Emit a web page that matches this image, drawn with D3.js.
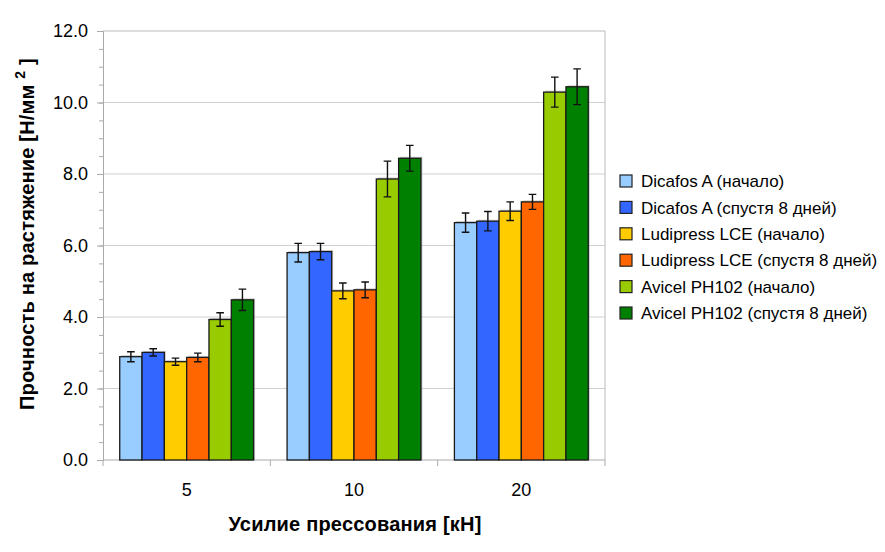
<!DOCTYPE html>
<html>
<head>
<meta charset="utf-8">
<script src="https://cdn.jsdelivr.net/npm/d3@7"></script>
<style>
  body { margin: 0; background: #fff; }
  text { font-family: "Liberation Sans", Arial, Helvetica, sans-serif; }
</style>
</head>
<body>
<div id="chart"></div>
<script>
// Data
const groups = ['5', '10', '20'];
const series = [
    'Dicafos A (начало)',
    'Dicafos A (спустя 8 дней)',
    'Ludipress LCE (начало)',
    'Ludipress LCE (спустя 8 дней)',
    'Avicel PH102 (начало)',
    'Avicel PH102 (спустя 8 дней)'
];
const colors = ['#99ccff', '#3366ff', '#ffcc00', '#ff6600', '#99cc00', '#008000'];
// values[group][series]
const values = [
    [2.89, 3.01, 2.75, 2.87, 3.93, 4.48],
    [5.80, 5.83, 4.73, 4.76, 7.86, 8.44],
    [6.64, 6.68, 6.96, 7.22, 10.29, 10.44]
];
const errors = [
    [0.14, 0.10, 0.10, 0.12, 0.19, 0.30],
    [0.26, 0.23, 0.22, 0.22, 0.50, 0.36],
    [0.27, 0.27, 0.26, 0.21, 0.42, 0.50]
];
const yTicks = [0, 2, 4, 6, 8, 10, 12];

const margin = { top: 31, left: 103, right: 280, bottom: 92 };
const totalW = 885, totalH = 552;
const width = totalW - margin.left - margin.right;   // ~502
const height = totalH - margin.top - margin.bottom;  // ~429

const svg = d3.select('#chart')
    .append('svg')
    .attr('width', totalW)
    .attr('height', totalH);

const g = svg.append('g')
    .attr('transform', `translate(${margin.left},${margin.top})`);

// Scales
const x0 = d3.scaleBand()
    .domain(groups)
    .range([0, width]);

const x1 = d3.scaleBand()
    .domain(series)
    .range([0, x0.bandwidth()])
    .paddingOuter(0.75);

const y = d3.scaleLinear()
    .domain([0, 12])
    .range([height, 0]);

// Gridlines
g.append('g')
    .selectAll('line')
    .data(yTicks.filter(d => d > 0 && d < 12))
    .enter()
    .append('line')
    .attr('x1', 0)
    .attr('x2', width)
    .attr('y1', d => y(d))
    .attr('y2', d => y(d))
    .attr('stroke', '#d0d0d0')
    .attr('stroke-width', 1);

// Frame top and right
g.append('path')
    .attr('d', `M0,0H${width}V${height}`)
    .attr('fill', 'none')
    .attr('stroke', '#bbbbbb')
    .attr('stroke-width', 1);

// Minor ticks on y
g.append('g')
    .attr('class', 'y-minor')
    .call(d3.axisLeft(y).ticks(24).tickSize(4).tickFormat(''))
    .call(s => s.select('.domain').remove())
    .selectAll('line').attr('stroke', '#aaaaaa');

// Y axis
const yAxis = g.append('g')
    .call(d3.axisLeft(y).tickValues(yTicks).tickSize(6).tickPadding(9).tickFormat(d3.format('.1f')));
yAxis.select('.domain').attr('stroke', '#aaaaaa');
yAxis.selectAll('line').attr('stroke', '#aaaaaa');
yAxis.selectAll('text')
    .style('font-size', '18px')
    .attr('fill', '#000');

// X axis: ticks at group boundaries
const xAxisG = g.append('g')
    .attr('transform', `translate(0,${height})`);
xAxisG.append('line')
    .attr('x1', 0).attr('x2', width)
    .attr('stroke', '#aaaaaa');
xAxisG.selectAll('.bt')
    .data([0, 1, 2, 3])
    .enter()
    .append('line')
    .attr('x1', d => d * x0.step())
    .attr('x2', d => d * x0.step())
    .attr('y1', 0).attr('y2', 6)
    .attr('stroke', '#aaaaaa');
xAxisG.selectAll('text')
    .data(groups)
    .enter()
    .append('text')
    .attr('x', d => x0(d) + x0.bandwidth() / 2)
    .attr('y', 36)
    .attr('text-anchor', 'middle')
    .style('font-size', '18px')
    .text(d => d);

// Bars
const groupG = g.selectAll('.grp')
    .data(values)
    .enter()
    .append('g')
    .attr('transform', (d, i) => `translate(${x0(groups[i])},0)`);

// light shadow
groupG.selectAll('.shadow')
    .data(d => d)
    .enter()
    .append('rect')
    .attr('x', (d, i) => x1(series[i]) + 1.5)
    .attr('y', d => y(d) - 1.5)
    .attr('width', x1.bandwidth())
    .attr('height', d => height - y(d) + 1.5)
    .attr('fill', '#999')
    .attr('opacity', 0.5);

groupG.selectAll('.bar')
    .data(d => d)
    .enter()
    .append('rect')
    .attr('x', (d, i) => x1(series[i]))
    .attr('y', d => y(d))
    .attr('width', x1.bandwidth())
    .attr('height', d => height - y(d))
    .attr('fill', (d, i) => colors[i])
    .attr('stroke', '#1a1a1a')
    .attr('stroke-width', 1.3);

// Error bars
groupG.each(function (vals, gi) {
    const eg = d3.select(this);
    vals.forEach((v, i) => {
        const cx = x1(series[i]) + x1.bandwidth() / 2;
        const e = errors[gi][i];
        const path = `M${cx},${y(v - e)}V${y(v + e)}` +
            `M${cx - 3.8},${y(v + e)}H${cx + 3.8}` +
            `M${cx - 3.8},${y(v - e)}H${cx + 3.8}`;
        eg.append('path')
            .attr('d', path)
            .attr('fill', 'none')
            .attr('stroke', '#111')
            .attr('stroke-width', 1.4);
    });
});

// Axis titles
svg.append('text')
    .attr('x', margin.left + width / 2 + 1)
    .attr('y', 531)
    .attr('text-anchor', 'middle')
    .style('font-size', '20px')
    .style('letter-spacing', '0.2px')
    .style('font-weight', 'bold')
    .text('Усилие прессования [кН]');

const yTitle = svg.append('text')
    .attr('transform', `translate(34,${margin.top + 203}) rotate(-90)`)
    .attr('text-anchor', 'middle')
    .style('font-size', '20px')
    .style('letter-spacing', '0.2px')
    .style('font-weight', 'bold');
yTitle.append('tspan').text('Прочность на растяжение [Н/мм ');
yTitle.append('tspan').attr('dy', -9).style('font-size', '14px').text('2');
yTitle.append('tspan').attr('dy', 9).text('  ]');

// Legend
const legend = svg.append('g')
    .attr('transform', 'translate(620,181)');

const legendItems = legend.selectAll('.legend-item')
    .data(series)
    .enter()
    .append('g')
    .attr('transform', (d, i) => `translate(0,${i * 26.4})`);

legendItems.append('rect')
    .attr('x', 0)
    .attr('y', -6)
    .attr('width', 12)
    .attr('height', 12)
    .attr('fill', (d, i) => colors[i])
    .attr('stroke', '#222')
    .attr('stroke-width', 1.2);

legendItems.append('text')
    .attr('x', 21)
    .attr('y', 0)
    .attr('dy', '0.36em')
    .style('font-size', '17px')
    .text(d => d);
</script>
</body>
</html>
